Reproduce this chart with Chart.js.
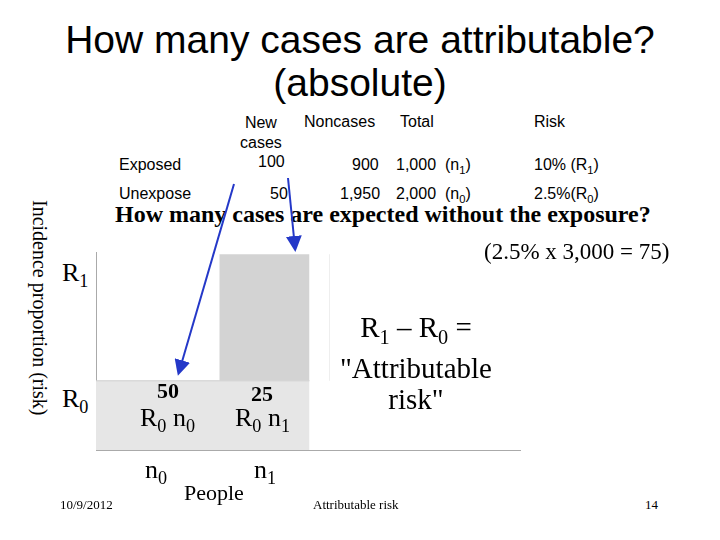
<!DOCTYPE html><html><head><meta charset="utf-8">
<script src="https://cdn.jsdelivr.net/npm/chart.js@4"></script>
<style>
body{margin:0;width:720px;height:540px;background:#fff;position:relative;overflow:hidden;font-family:"Liberation Sans",Arial,sans-serif}
.t{position:absolute;white-space:nowrap}
.s{font-family:"Liberation Serif","Times New Roman",serif}
#wrap{position:absolute;left:96px;top:252px;width:426px;height:200px}
sub{font-size:70%}
</style></head><body>
<div id="wrap"><canvas id="c"></canvas></div>
<div class="t" style="left:0;width:720px;text-align:center;top:18px;font-size:39px;line-height:43px">How many cases are attributable?<br>(absolute)</div>
<div class="t" style="left:240px;top:113px;font-size:16px;text-align:center;line-height:20px">New<br>cases</div>
<div class="t" style="left:304px;top:113px;font-size:16px">Noncases</div>
<div class="t" style="left:400px;top:113px;font-size:16px">Total</div>
<div class="t" style="left:534px;top:113px;font-size:16px">Risk</div>
<div class="t" style="left:119px;top:156px;font-size:16px">Exposed</div>
<div class="t" style="left:258px;top:153px;font-size:16px">100</div>
<div class="t" style="left:352px;top:156px;font-size:16px">900</div>
<div class="t" style="left:396px;top:156px;font-size:16px">1,000 &nbsp;(n<sub>1</sub>)</div>
<div class="t" style="left:534px;top:156px;font-size:16px">10% (R<sub>1</sub>)</div>
<div class="t" style="left:119px;top:185px;font-size:16px">Unexpose</div>
<div class="t" style="left:270px;top:185px;font-size:16px">50</div>
<div class="t" style="left:340px;top:185px;font-size:16px">1,950</div>
<div class="t" style="left:396px;top:185px;font-size:16px">2,000 &nbsp;(n<sub>0</sub>)</div>
<div class="t" style="left:534px;top:185px;font-size:16px">2.5%(R<sub>0</sub>)</div>
<div class="t s" style="left:115px;top:201px;font-size:24px;font-weight:bold">How many cases are expected without the exposure?</div>
<div class="t s" style="left:484px;top:239px;font-size:23px">(2.5% x 3,000 = 75)</div>
<div class="t s" style="left:28px;top:200px;font-size:20px;writing-mode:vertical-rl">Incidence proportion (risk)</div>
<div class="t s" style="left:62px;top:258px;font-size:26px">R<sub>1</sub></div>
<div class="t s" style="left:62px;top:384px;font-size:26px">R<sub>0</sub></div>
<div class="t s" style="left:157px;top:378px;font-size:22px;font-weight:bold">50</div>
<div class="t s" style="left:251px;top:381px;font-size:22px;font-weight:bold">25</div>
<div class="t s" style="left:140px;top:403px;font-size:26px">R<sub>0</sub> n<sub>0</sub></div>
<div class="t s" style="left:235px;top:403px;font-size:26px">R<sub>0</sub> n<sub>1</sub></div>
<div class="t s" style="left:340px;top:312px;font-size:29px;text-align:center;line-height:31px">R<sub>1</sub> – R<sub>0</sub> =<br>"Attributable<br>risk"</div>
<div class="t s" style="left:145px;top:455px;font-size:26px">n<sub>0</sub></div>
<div class="t s" style="left:254px;top:455px;font-size:26px">n<sub>1</sub></div>
<div class="t s" style="left:184px;top:480px;font-size:22px">People</div>
<div class="t s" style="left:60px;top:497px;font-size:13px">10/9/2012</div>
<div class="t s" style="left:313px;top:497px;font-size:13px">Attributable risk</div>
<div class="t s" style="left:645px;top:497px;font-size:13px">14</div>
<svg style="position:absolute;left:0;top:0" width="720" height="540">
<defs><marker id="a" markerWidth="8" markerHeight="8" refX="6" refY="4" orient="auto"><path d="M0,0 L8,4 L0,8z" fill="#2438c8"/></marker></defs>
<line x1="288" y1="178" x2="295" y2="248" stroke="#2438c8" stroke-width="2" marker-end="url(#a)"/>
<line x1="234" y1="184" x2="179" y2="372" stroke="#2438c8" stroke-width="2" marker-end="url(#a)"/>
</svg>
<script>
const edges=[0,123,213];
const xMax=423;
const R0=2.5, R1=7.07, yMax=7.15;
const ds=(pts,bg,fill,border,bw)=>({data:pts,showLine:true,pointRadius:0,borderColor:border,borderWidth:bw,backgroundColor:bg,fill:fill});
new Chart(document.getElementById('c'),{type:'scatter',data:{datasets:[
 ds([{x:edges[1],y:R1},{x:edges[2],y:R1}],'#d3d3d3',{value:R0},'rgba(0,0,0,0)',0),
 ds([{x:edges[0],y:R0},{x:edges[2],y:R0}],'#e6e6e6','origin','#cfcfcf',1),
 ds([{x:edges[1],y:0},{x:edges[1],y:R1}],'#fff',false,'#ffffff',2),
 ds([{x:edges[2]+20,y:R0},{x:edges[2]+20,y:R1}],'#fff',false,'#eeeeee',1)
]},options:{responsive:true,maintainAspectRatio:false,animation:false,layout:{padding:{bottom:2,right:2}},
plugins:{legend:{display:false},tooltip:{enabled:false}},
scales:{x:{type:'linear',min:0,max:xMax,ticks:{display:false},grid:{display:false,drawTicks:false},border:{color:'#aaa',width:1}},
y:{min:0,max:yMax,ticks:{display:false},grid:{display:false,drawTicks:false},border:{color:'#aaa',width:1}}}}});
</script></body></html>
